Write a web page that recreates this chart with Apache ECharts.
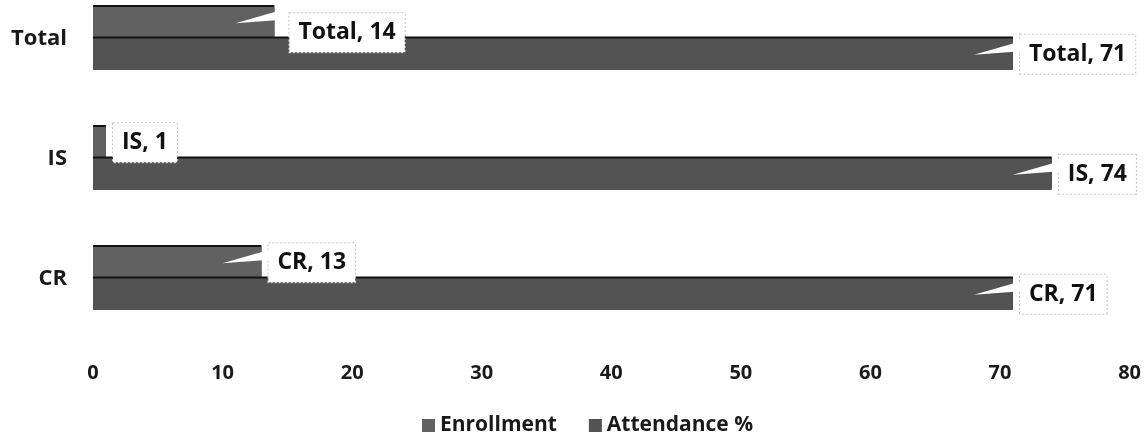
<!DOCTYPE html>
<html>
<head>
<meta charset="utf-8">
<script src="https://cdn.jsdelivr.net/npm/echarts@6/dist/echarts.min.js"></script>
<style>
html,body{margin:0;padding:0;background:#fff;overflow:hidden;}
#wrap{position:relative;width:1144px;height:437px;overflow:hidden;}
#chart{position:absolute;left:0;top:-22px;width:1144px;height:459px;}
</style>
</head>
<body>
<div id="wrap"><div id="chart"></div></div>
<script>
const categories = ['CR', 'IS', 'Total'];
const seriesNames = ['Enrollment', 'Attendance %'];
const enrollment = [13, 1, 14];
const attendance = [71, 74, 71];
const xTicks = [0, 10, 20, 30, 40, 50, 60, 70, 80];

const FONT = '"Open Sans", "Noto Sans", sans-serif';
const BAR_W = 31.5;
const colors = ['#616161', '#535353'];

function barData(values, sIdx) {
  return values.map(function (v, i) {
    const item = { value: v };
    if (sIdx === 0 && categories[i] === 'Total') {
      item.label = { offset: [8, 10] };
    }
    return item;
  });
}

const wedgeData = [];
[enrollment, attendance].forEach(function (vals, s) {
  vals.forEach(function (v, i) { wedgeData.push([v, i, s]); });
});

const labelStyle = {
  show: true,
  position: 'right',
  distance: 7,
  formatter: function (p) { return p.name + ', ' + p.value; },
  backgroundColor: '#ffffff',
  borderColor: '#c4c4c4',
  borderWidth: 1,
  borderType: 'dotted',
  padding: [8, 9, 8, 9],
  fontFamily: FONT,
  fontWeight: 'bold',
  fontSize: 23,
  color: '#111'
};

const chart = echarts.init(document.getElementById('chart'), null, { renderer: 'canvas' });
chart.setOption({
  animation: false,
  backgroundColor: '#ffffff',
  grid: { left: 93, right: 14, top: 0.5, bottom: 98.5, containLabel: false },
  xAxis: {
    type: 'value', min: 0, max: 80, interval: 10,
    axisLine: { show: false }, axisTick: { show: false }, splitLine: { show: false },
    axisLabel: { margin: 25, fontFamily: FONT, fontWeight: 'bold', fontSize: 20, color: '#1a1a1a',
      formatter: function (v) { return xTicks.indexOf(v) >= 0 ? String(v) : ''; } }
  },
  yAxis: {
    type: 'category', data: categories,
    axisLine: { show: false }, axisTick: { show: false },
    axisLabel: { margin: 26, fontFamily: FONT, fontWeight: 'bold', fontSize: 22, color: '#1a1a1a' }
  },
  legend: {
    data: seriesNames, left: 417, top: 432, icon: 'rect', itemWidth: 13, itemHeight: 13, itemGap: 32,
    textStyle: { fontFamily: FONT, fontWeight: 'bold', fontSize: 21, color: '#1a1a1a' }
  },
  series: [
    {
      name: seriesNames[0], type: 'bar', data: barData(enrollment, 0), barWidth: BAR_W, barGap: '0%',
      itemStyle: { color: colors[0], shadowColor: '#111', shadowOffsetY: -2, shadowBlur: 0 },
      label: labelStyle, z: 2
    },
    {
      name: seriesNames[1], type: 'bar', data: barData(attendance, 1), barWidth: BAR_W, barGap: '0%',
      itemStyle: { color: colors[1], shadowColor: '#111', shadowOffsetY: -2, shadowBlur: 0 },
      label: labelStyle, z: 2
    },
    {
      type: 'custom', data: wedgeData, z: 5, silent: true, encode: { x: 0, y: 1 },
      renderItem: function (params, api) {
        const v = api.value(0), cat = api.value(1), s = api.value(2);
        if (v < 3) return null;
        const end = api.coord([v, cat]);
        const tip = api.coord([v - 3, cat]);
        const cy = end[1] + (s === 0 ? -BAR_W / 2 : BAR_W / 2);
        return {
          type: 'polygon',
          shape: { points: [[tip[0], cy + 0.5], [end[0] + 8, cy - 13], [end[0] + 8, cy - 3]] },
          style: { fill: '#ffffff' }
        };
      }
    }
  ]
});
</script>
</body>
</html>
